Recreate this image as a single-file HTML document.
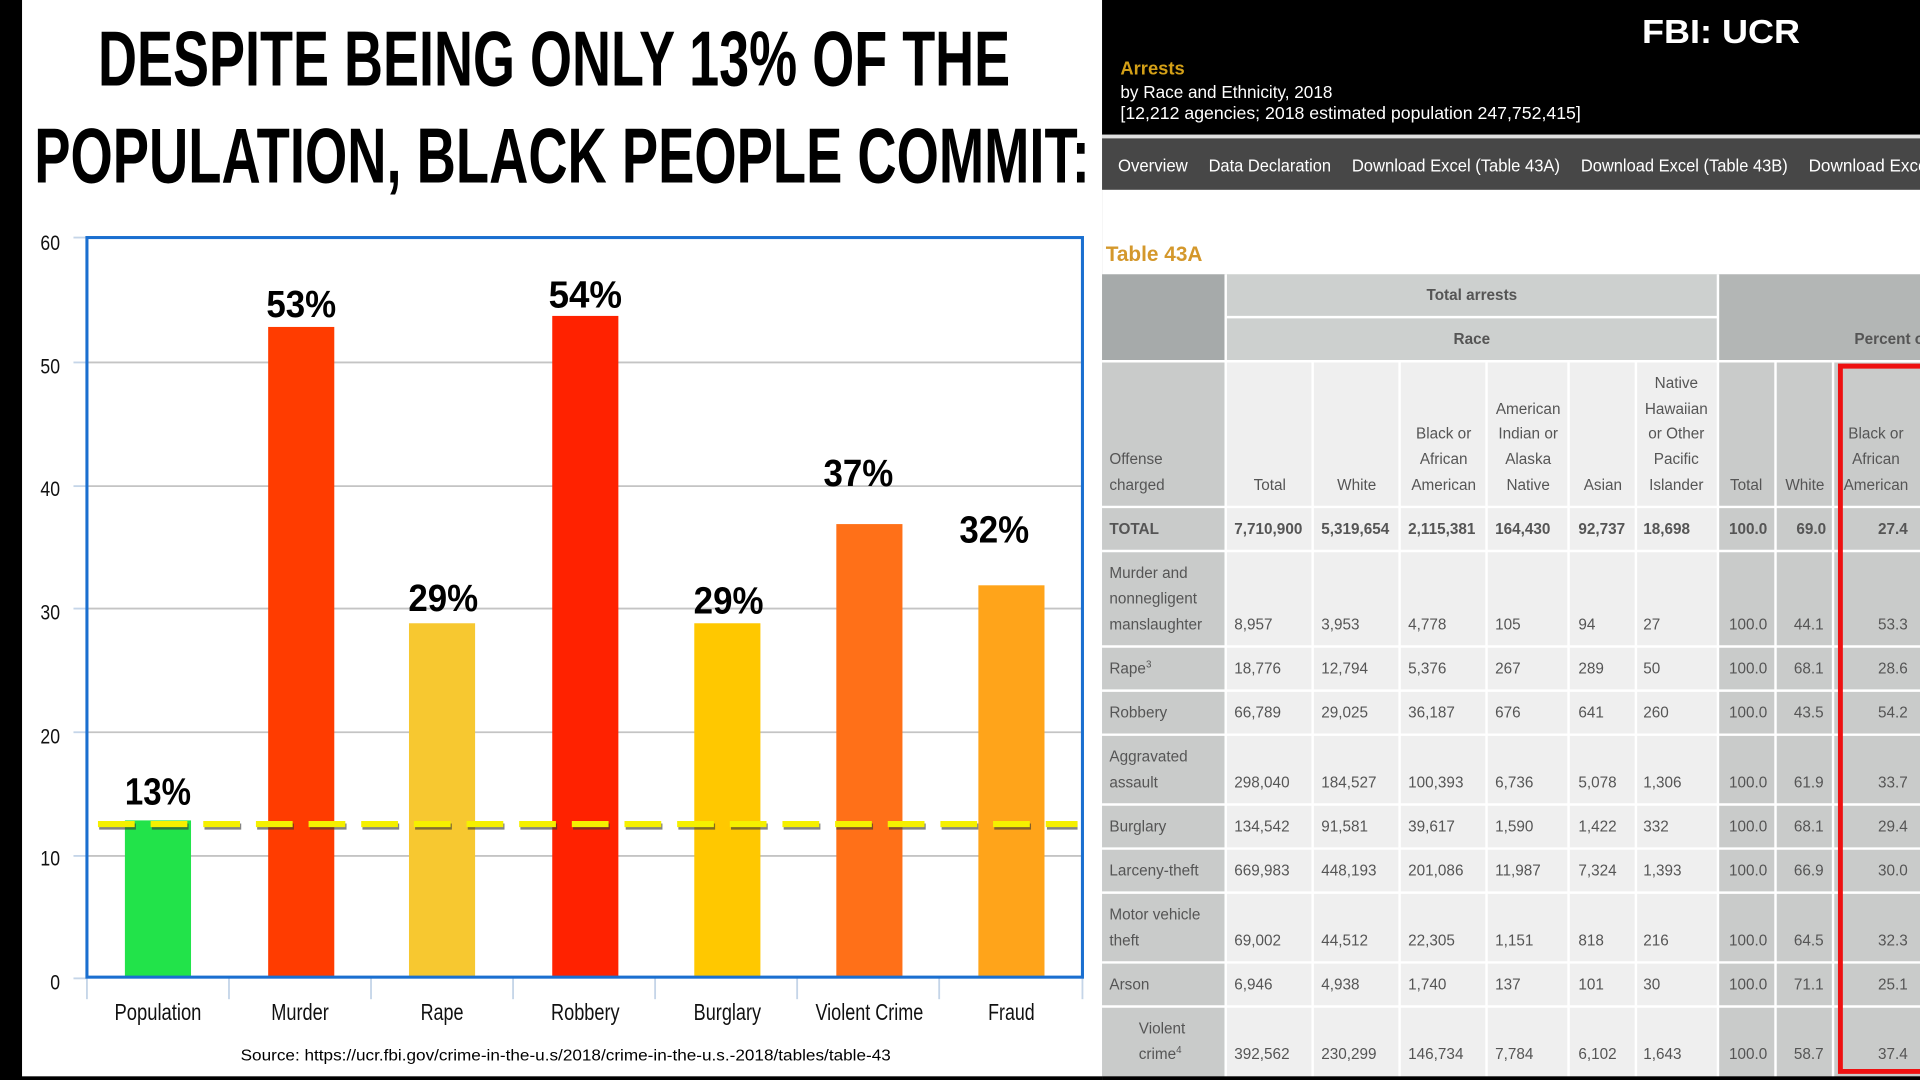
<!DOCTYPE html>
<html><head><meta charset="utf-8"><style>
html,body{margin:0;padding:0;background:#000;width:1920px;height:1080px;overflow:hidden}
svg{display:block}
.t{font-family:"Liberation Sans",Arial,sans-serif}
</style></head><body>
<svg width="1920" height="1080" viewBox="0 0 1568 882" xmlns="http://www.w3.org/2000/svg">
<rect x="0" y="0" width="1568" height="882" fill="#000"/>
<!-- LEFT PANEL -->
<rect x="18" y="0" width="882" height="879" fill="#fff"/>
<g class="t" font-family="Liberation Sans Narrow, Liberation Sans, sans-serif" font-weight="bold" fill="#000">
<text x="80" y="70" font-size="64" textLength="745" lengthAdjust="spacingAndGlyphs">DESPITE BEING ONLY 13% OF THE</text>
<text x="28" y="149" font-size="64" textLength="862" lengthAdjust="spacingAndGlyphs">POPULATION, BLACK PEOPLE COMMIT:</text>
</g>
<!-- grid -->
<g stroke="#c4c4c4" stroke-width="1.5">
<line x1="71" y1="296" x2="885" y2="296"/>
<line x1="71" y1="397" x2="885" y2="397"/>
<line x1="71" y1="497" x2="885" y2="497"/>
<line x1="71" y1="598" x2="885" y2="598"/>
<line x1="71" y1="699" x2="885" y2="699"/>
</g>
<g stroke="#c5d5e8" stroke-width="1.5">
<line x1="60" y1="194" x2="71" y2="194"/><line x1="60" y1="296" x2="71" y2="296"/>
<line x1="60" y1="397" x2="71" y2="397"/><line x1="60" y1="497" x2="71" y2="497"/>
<line x1="60" y1="598" x2="71" y2="598"/><line x1="60" y1="699" x2="71" y2="699"/>
<line x1="60" y1="799" x2="71" y2="799"/>
<line x1="71" y1="799" x2="71" y2="816"/><line x1="187" y1="799" x2="187" y2="816"/>
<line x1="303" y1="799" x2="303" y2="816"/><line x1="419" y1="799" x2="419" y2="816"/>
<line x1="535" y1="799" x2="535" y2="816"/><line x1="651" y1="799" x2="651" y2="816"/>
<line x1="767" y1="799" x2="767" y2="816"/><line x1="884" y1="799" x2="884" y2="816"/>
</g>
<!-- bars -->
<rect x="102" y="670" width="54" height="128" fill="#22e34a"/>
<rect x="219" y="267" width="54" height="531" fill="#ff3c00"/>
<rect x="334" y="509" width="54" height="289" fill="#f7c830"/>
<rect x="451" y="258" width="54" height="540" fill="#ff2200"/>
<rect x="567" y="509" width="54" height="289" fill="#ffc800"/>
<rect x="683" y="428" width="54" height="370" fill="#ff7018"/>
<rect x="799" y="478" width="54" height="320" fill="#ffa41a"/>
<!-- dashed line -->
<line x1="81" y1="675" x2="880" y2="675" stroke="#333" stroke-width="5" stroke-dasharray="30 13" opacity="0.6"/>
<line x1="80" y1="673" x2="880" y2="673" stroke="#f5f000" stroke-width="5" stroke-dasharray="30 13"/>
<!-- plot border -->
<rect x="71" y="194" width="813" height="604" fill="none" stroke="#1a6fd0" stroke-width="2.5"/>
<!-- y labels -->
<g class="t" font-size="17" fill="#111" text-anchor="end">
<text x="49" y="204" textLength="16" lengthAdjust="spacingAndGlyphs">60</text><text x="49" y="305" textLength="16" lengthAdjust="spacingAndGlyphs">50</text><text x="49" y="405" textLength="16" lengthAdjust="spacingAndGlyphs">40</text>
<text x="49" y="506" textLength="16" lengthAdjust="spacingAndGlyphs">30</text><text x="49" y="607" textLength="16" lengthAdjust="spacingAndGlyphs">20</text><text x="49" y="707" textLength="16" lengthAdjust="spacingAndGlyphs">10</text>
<text x="49" y="808" textLength="8" lengthAdjust="spacingAndGlyphs">0</text>
</g>
<g class="t" font-size="19" fill="#111" text-anchor="middle" lengthAdjust="spacingAndGlyphs">
<text x="129" y="833" textLength="71" lengthAdjust="spacingAndGlyphs">Population</text>
<text x="245" y="833" textLength="47" lengthAdjust="spacingAndGlyphs">Murder</text>
<text x="361" y="833" textLength="35" lengthAdjust="spacingAndGlyphs">Rape</text>
<text x="478" y="833" textLength="56" lengthAdjust="spacingAndGlyphs">Robbery</text>
<text x="594" y="833" textLength="55" lengthAdjust="spacingAndGlyphs">Burglary</text>
<text x="710" y="833" textLength="88" lengthAdjust="spacingAndGlyphs">Violent Crime</text>
<text x="826" y="833" textLength="38" lengthAdjust="spacingAndGlyphs">Fraud</text>
</g>
<g class="t" font-size="31" font-weight="bold" fill="#000" text-anchor="middle">
<text x="129" y="657" textLength="54" lengthAdjust="spacingAndGlyphs">13%</text>
<text x="246" y="259" textLength="57" lengthAdjust="spacingAndGlyphs">53%</text>
<text x="362" y="499" textLength="57" lengthAdjust="spacingAndGlyphs">29%</text>
<text x="478" y="251" textLength="60" lengthAdjust="spacingAndGlyphs">54%</text>
<text x="595" y="501" textLength="57" lengthAdjust="spacingAndGlyphs">29%</text>
<text x="701" y="397" textLength="57" lengthAdjust="spacingAndGlyphs">37%</text>
<text x="812" y="443" textLength="57" lengthAdjust="spacingAndGlyphs">32%</text>
</g>
<text class="t" x="462" y="866" font-size="13" fill="#000" text-anchor="middle" textLength="531" lengthAdjust="spacingAndGlyphs">Source: https://ucr.fbi.gov/crime-in-the-u.s/2018/crime-in-the-u.s.-2018/tables/table-43</text>

<!-- RIGHT PANEL -->
<rect x="900" y="0" width="668" height="882" fill="#fff"/>
<rect x="900" y="0" width="668" height="110" fill="#000"/>
<rect x="900" y="110" width="668" height="3" fill="#e0e0e0"/>
<rect x="900" y="113" width="668" height="42" fill="#474747"/>
<g class="t" fill="#fff">
<text x="1341" y="35" font-size="27" font-weight="bold" textLength="129" lengthAdjust="spacingAndGlyphs">FBI: UCR</text>
<text x="915" y="61" font-size="15" font-weight="bold" fill="#d4a017">Arrests</text>
<text x="915" y="80" font-size="14">by Race and Ethnicity, 2018</text>
<text x="915" y="97" font-size="14" textLength="376" lengthAdjust="spacingAndGlyphs">[12,212 agencies; 2018 estimated population 247,752,415]</text>
<g font-size="14">
<text x="913" y="140" textLength="57" lengthAdjust="spacingAndGlyphs">Overview</text>
<text x="987" y="140" textLength="100" lengthAdjust="spacingAndGlyphs">Data Declaration</text>
<text x="1104" y="140" textLength="170" lengthAdjust="spacingAndGlyphs">Download Excel (Table 43A)</text>
<text x="1291" y="140" textLength="169" lengthAdjust="spacingAndGlyphs">Download Excel (Table 43B)</text>
<text x="1477" y="140">Download Excel</text>
</g>
</g>
<text class="t" x="903" y="213" font-size="17" font-weight="bold" fill="#d4982c">Table 43A</text>
<!-- table backgrounds -->
<rect x="900" y="224" width="668" height="656" fill="#efefef"/>
<rect x="900" y="224" width="101" height="71" fill="#a6aaaa"/>
<rect x="1001" y="224" width="402" height="71" fill="#cdd0cf"/>
<rect x="1403" y="224" width="165" height="71" fill="#b3b6b5"/>
<rect x="900" y="295" width="101" height="585" fill="#c9cbca"/>
<rect x="1403" y="295" width="165" height="585" fill="#c9cbca"/>
<g stroke="#fff" stroke-width="2">
<line x1="1001" y1="259" x2="1403" y2="259"/>
<line x1="900" y1="295" x2="1568" y2="295"/>
<line x1="900" y1="414" x2="1568" y2="414"/><line x1="900" y1="450" x2="1568" y2="450"/>
<line x1="900" y1="528" x2="1568" y2="528"/><line x1="900" y1="564" x2="1568" y2="564"/>
<line x1="900" y1="600" x2="1568" y2="600"/><line x1="900" y1="657" x2="1568" y2="657"/>
<line x1="900" y1="693" x2="1568" y2="693"/><line x1="900" y1="729" x2="1568" y2="729"/>
<line x1="900" y1="786" x2="1568" y2="786"/><line x1="900" y1="822" x2="1568" y2="822"/>
<line x1="1001" y1="224" x2="1001" y2="880"/><line x1="1403" y1="224" x2="1403" y2="880"/>
<line x1="1072" y1="295" x2="1072" y2="880"/><line x1="1143" y1="295" x2="1143" y2="880"/>
<line x1="1214" y1="295" x2="1214" y2="880"/><line x1="1281" y1="295" x2="1281" y2="880"/>
<line x1="1336" y1="295" x2="1336" y2="880"/><line x1="1450" y1="295" x2="1450" y2="880"/>
<line x1="1497" y1="295" x2="1497" y2="880"/>
</g>
<g class="t" font-size="12.5" fill="#555">
<g font-weight="bold" text-anchor="middle">
<text x="1202" y="245">Total arrests</text><text x="1202" y="281">Race</text><text x="1545" y="281">Percent of</text>
</g>
<text x="906" y="379">Offense</text><text x="906" y="400">charged</text>
<g text-anchor="middle">
<text x="1037" y="400">Total</text><text x="1108" y="400">White</text>
<text x="1179" y="358">Black or</text><text x="1179" y="379">African</text><text x="1179" y="400">American</text>
<text x="1248" y="338">American</text><text x="1248" y="358">Indian or</text><text x="1248" y="379">Alaska</text><text x="1248" y="400">Native</text>
<text x="1309" y="400">Asian</text>
<text x="1369" y="317">Native</text><text x="1369" y="338">Hawaiian</text><text x="1369" y="358">or Other</text><text x="1369" y="379">Pacific</text><text x="1369" y="400">Islander</text>
<text x="1426" y="400">Total</text><text x="1474" y="400">White</text>
<text x="1532" y="358">Black or</text><text x="1532" y="379">African</text><text x="1532" y="400">American</text>
</g>
<g font-weight="bold">
<text x="906" y="436">TOTAL</text><text x="1008" y="436">7,710,900</text><text x="1079" y="436">5,319,654</text>
<text x="1150" y="436">2,115,381</text><text x="1221" y="436">164,430</text><text x="1289" y="436">92,737</text>
<text x="1342" y="436">18,698</text><text x="1412" y="436">100.0</text><text x="1467" y="436">69.0</text>
<text x="1558" y="436" text-anchor="end">27.4</text>
</g>
<text x="906" y="472">Murder and</text><text x="906" y="493">nonnegligent</text><text x="906" y="514">manslaughter</text>
<text x="1008" y="514">8,957</text><text x="1079" y="514">3,953</text><text x="1150" y="514">4,778</text><text x="1221" y="514">105</text><text x="1289" y="514">94</text><text x="1342" y="514">27</text><text x="1412" y="514">100.0</text><text x="1465" y="514">44.1</text><text x="1558" y="514" text-anchor="end">53.3</text>
<text x="906" y="550">Rape<tspan font-size="8" dy="-5">3</tspan></text>
<text x="1008" y="550">18,776</text><text x="1079" y="550">12,794</text><text x="1150" y="550">5,376</text><text x="1221" y="550">267</text><text x="1289" y="550">289</text><text x="1342" y="550">50</text><text x="1412" y="550">100.0</text><text x="1465" y="550">68.1</text><text x="1558" y="550" text-anchor="end">28.6</text>
<text x="906" y="586">Robbery</text>
<text x="1008" y="586">66,789</text><text x="1079" y="586">29,025</text><text x="1150" y="586">36,187</text><text x="1221" y="586">676</text><text x="1289" y="586">641</text><text x="1342" y="586">260</text><text x="1412" y="586">100.0</text><text x="1465" y="586">43.5</text><text x="1558" y="586" text-anchor="end">54.2</text>
<text x="906" y="622">Aggravated</text><text x="906" y="643">assault</text>
<text x="1008" y="643">298,040</text><text x="1079" y="643">184,527</text><text x="1150" y="643">100,393</text><text x="1221" y="643">6,736</text><text x="1289" y="643">5,078</text><text x="1342" y="643">1,306</text><text x="1412" y="643">100.0</text><text x="1465" y="643">61.9</text><text x="1558" y="643" text-anchor="end">33.7</text>
<text x="906" y="679">Burglary</text>
<text x="1008" y="679">134,542</text><text x="1079" y="679">91,581</text><text x="1150" y="679">39,617</text><text x="1221" y="679">1,590</text><text x="1289" y="679">1,422</text><text x="1342" y="679">332</text><text x="1412" y="679">100.0</text><text x="1465" y="679">68.1</text><text x="1558" y="679" text-anchor="end">29.4</text>
<text x="906" y="715">Larceny-theft</text>
<text x="1008" y="715">669,983</text><text x="1079" y="715">448,193</text><text x="1150" y="715">201,086</text><text x="1221" y="715">11,987</text><text x="1289" y="715">7,324</text><text x="1342" y="715">1,393</text><text x="1412" y="715">100.0</text><text x="1465" y="715">66.9</text><text x="1558" y="715" text-anchor="end">30.0</text>
<text x="906" y="751">Motor vehicle</text><text x="906" y="772">theft</text>
<text x="1008" y="772">69,002</text><text x="1079" y="772">44,512</text><text x="1150" y="772">22,305</text><text x="1221" y="772">1,151</text><text x="1289" y="772">818</text><text x="1342" y="772">216</text><text x="1412" y="772">100.0</text><text x="1465" y="772">64.5</text><text x="1558" y="772" text-anchor="end">32.3</text>
<text x="906" y="808">Arson</text>
<text x="1008" y="808">6,946</text><text x="1079" y="808">4,938</text><text x="1150" y="808">1,740</text><text x="1221" y="808">137</text><text x="1289" y="808">101</text><text x="1342" y="808">30</text><text x="1412" y="808">100.0</text><text x="1465" y="808">71.1</text><text x="1558" y="808" text-anchor="end">25.1</text>
<text x="930" y="844">Violent</text><text x="930" y="865">crime<tspan font-size="8" dy="-5">4</tspan></text>
<text x="1008" y="865">392,562</text><text x="1079" y="865">230,299</text><text x="1150" y="865">146,734</text><text x="1221" y="865">7,784</text><text x="1289" y="865">6,102</text><text x="1342" y="865">1,643</text><text x="1412" y="865">100.0</text><text x="1465" y="865">58.7</text><text x="1558" y="865" text-anchor="end">37.4</text>
</g>
<!-- red box -->
<path d="M1568 299 L1503 299 L1503 875 L1568 875" fill="none" stroke="#ee1111" stroke-width="4"/>
<rect x="900" y="879" width="668" height="3" fill="#000"/>
</svg>
</body></html>
